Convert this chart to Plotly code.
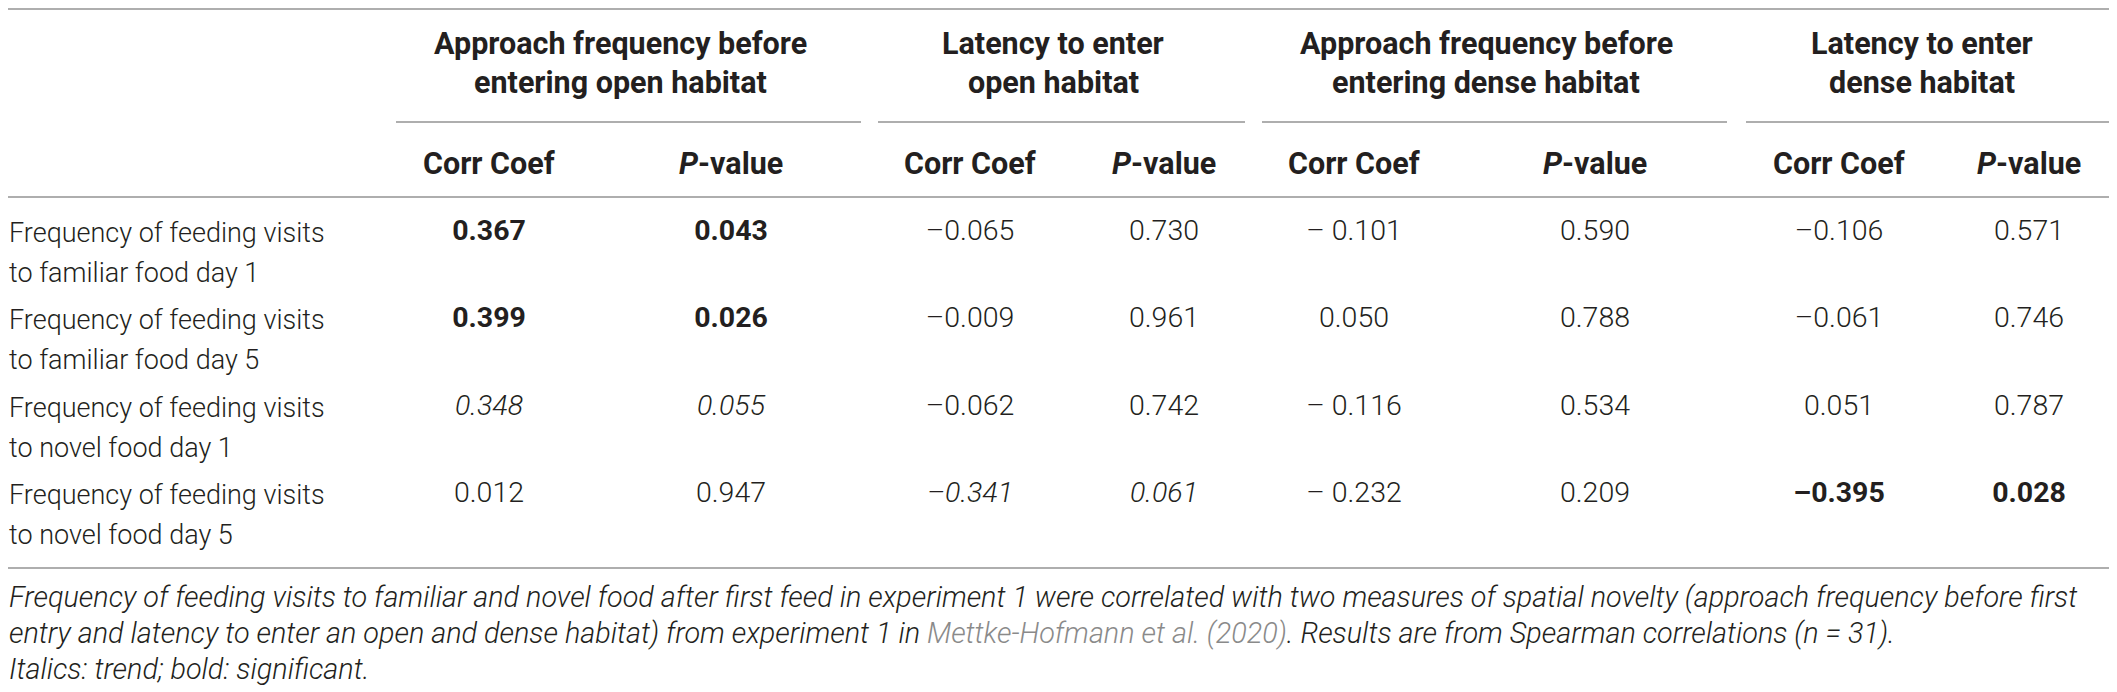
import plotly.graph_objects as go

# column groups (two header lines each)
groups = [
    ("Approach frequency before", "entering open habitat"),
    ("Latency to enter", "open habitat"),
    ("Approach frequency before", "entering dense habitat"),
    ("Latency to enter", "dense habitat"),
]
sub_cols = ["Corr Coef", "<i>P</i>-value"]

row_labels = [
    ("Frequency of feeding visits", "to familiar food day 1"),
    ("Frequency of feeding visits", "to familiar food day 5"),
    ("Frequency of feeding visits", "to novel food day 1"),
    ("Frequency of feeding visits", "to novel food day 5"),
]

# values per column (rows top to bottom)
open_app_r = ["0.367", "0.399", "0.348", "0.012"]
open_app_p = ["0.043", "0.026", "0.055", "0.947"]
open_lat_r = ["\u20130.065", "\u20130.009", "\u20130.062", "\u20130.341"]
open_lat_p = ["0.730", "0.961", "0.742", "0.061"]
dense_app_r = ["\u2013 0.101", "0.050", "\u2013 0.116", "\u2013 0.232"]
dense_app_p = ["0.590", "0.788", "0.534", "0.209"]
dense_lat_r = ["\u20130.106", "\u20130.061", "0.051", "\u20130.395"]
dense_lat_p = ["0.571", "0.746", "0.787", "0.028"]

# significance per group: s = significant (bold), t = trend (italic)
open_app_sig = ["s", "s", "t", ""]
open_lat_sig = ["", "", "", "t"]
dense_app_sig = ["", "", "", ""]
dense_lat_sig = ["", "", "", "s"]

caption = [
    "Frequency of feeding visits to familiar and novel food after first feed in experiment 1 were correlated with two measures of spatial novelty (approach frequency before first",
    "entry and latency to enter an open and dense habitat) from experiment 1 in <span style='color:#8a8a8a'>Mettke-Hofmann et al. (2020)</span>. Results are from Spearman correlations (<i>n</i> = 31).",
    "Italics: trend; bold: significant.",
]

# layout geometry, in page pixels (the page body has an 8px margin)
W, H = 2117, 692
PAD = 8
FONT = "Roboto"
TXT = "#231f20"
LINE = "#aeaeae"
group_spans = [(396, 861), (878, 1245), (1262, 1727), (1746, 2117)]
group_x = [620, 1053, 1486, 1922]
corr_x = [489, 970, 1354, 1839]
pval_x = [731, 1164, 1595, 2029]
row_y = [233, 320, 408, 495]
line_gap = 40


def styled(v, s):
    if s == "s":
        return "<b>" + v + "</b>"
    if s == "t":
        return "<i>" + v + "</i>"
    return v


fig = go.Figure()

# value cells
cols_r = [open_app_r, open_lat_r, dense_app_r, dense_lat_r]
cols_p = [open_app_p, open_lat_p, dense_app_p, dense_lat_p]
sigs = [open_app_sig, open_lat_sig, dense_app_sig, dense_lat_sig]
xs, ys, texts = [], [], []
for g in range(4):
    for i in range(len(row_y)):
        xs += [corr_x[g], pval_x[g]]
        ys += [row_y[i], row_y[i]]
        texts += [styled(cols_r[g][i], sigs[g][i]), styled(cols_p[g][i], sigs[g][i])]
fig.add_trace(go.Scatter(x=xs, y=ys, mode="text", text=texts, textposition="middle center",
                         textfont=dict(family=FONT, size=28.5, color=TXT, weight=300),
                         hoverinfo="skip"))

ann = []
# row labels
for i, (a, b) in enumerate(row_labels):
    for j, t in enumerate([a, b]):
        ann.append(dict(x=PAD, y=row_y[i] + j * line_gap, text=t, showarrow=False,
                        xanchor="left", yanchor="middle", borderpad=0,
                        font=dict(family=FONT, size=27, color=TXT, weight=300)))

for g, (a, b) in enumerate(groups):
    for j, t in enumerate([a, b]):
        ann.append(dict(x=group_x[g], y=43 + j * 39, text="<b>" + t + "</b>", showarrow=False,
                        xanchor="center", yanchor="middle",
                        font=dict(family=FONT, size=30.5, color=TXT)))
    for x, t in zip([corr_x[g], pval_x[g]], sub_cols):
        ann.append(dict(x=x, y=163, text="<b>" + t + "</b>", showarrow=False,
                        xanchor="center", yanchor="middle",
                        font=dict(family=FONT, size=30.5, color=TXT)))

for k, t in enumerate(caption):
    ann.append(dict(x=PAD, y=597 + k * 36, text="<i>" + t + "</i>", showarrow=False,
                    xanchor="left", yanchor="middle", borderpad=0,
                    font=dict(family=FONT, size=28.8, color=TXT, weight=300)))

shapes = []
for y in [9, 197, 568]:
    shapes.append(dict(type="line", x0=0, x1=W, y0=y, y1=y, xref="x", yref="y",
                       line=dict(color=LINE, width=2)))
for x0, x1 in group_spans:
    shapes.append(dict(type="line", x0=x0, x1=x1, y0=122, y1=122, xref="x", yref="y",
                       line=dict(color=LINE, width=2)))

fig.update_xaxes(range=[PAD, W + PAD], visible=False, fixedrange=True)
fig.update_yaxes(range=[H + PAD, PAD], visible=False, fixedrange=True)
fig.update_layout(width=W, height=H, margin=dict(l=0, r=0, t=0, b=0),
                  plot_bgcolor="white", paper_bgcolor="white", showlegend=False,
                  annotations=ann, shapes=shapes)

fig.write_html("out.html")
